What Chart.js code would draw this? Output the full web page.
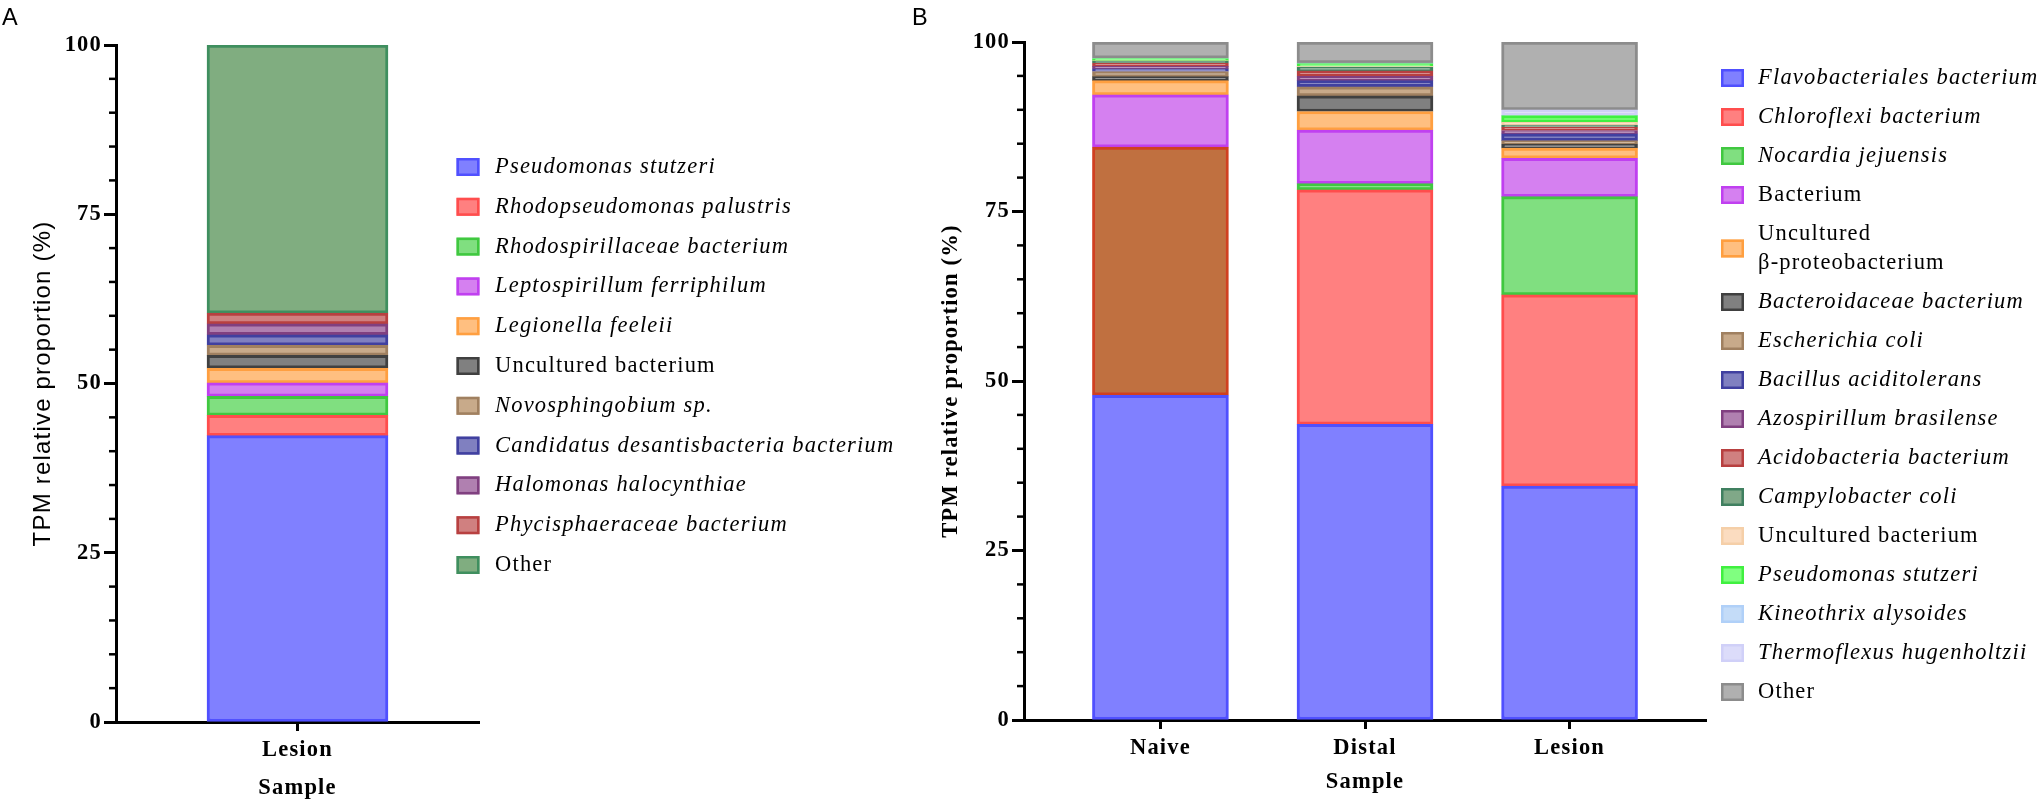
<!DOCTYPE html>
<html>
<head>
<meta charset="utf-8">
<script src="https://cdn.jsdelivr.net/npm/chart.js@4.4.1/dist/chart.umd.min.js"></script>
<style>
  html, body { margin: 0; padding: 0; background: #fff; }
  #wrapA { position: absolute; left: 0; top: 0; width: 910px; height: 802px; }
  #wrapB { position: absolute; left: 910px; top: 0; width: 1129px; height: 802px; }
</style>
</head>
<body>
<div id="wrapA"><canvas id="chartA" width="910" height="802"></canvas></div>
<div id="wrapB"><canvas id="chartB" width="1129" height="802"></canvas></div>
<script>
// Panel A - single lesion sample
const samplesA = ["Lesion"];
const taxaA = [
    "Pseudomonas stutzeri", "Rhodopseudomonas palustris", "Rhodospirillaceae bacterium",
    "Leptospirillum ferriphilum", "Legionella feeleii", "Uncultured bacterium",
    "Novosphingobium sp.", "Candidatus desantisbacteria bacterium", "Halomonas halocynthiae",
    "Phycisphaeraceae bacterium", "Other"
];
const lesionA = [42.3, 3.0, 2.8, 2.0, 2.15, 1.9, 1.5, 1.55, 1.6, 1.6, 39.6];

// Panel B - three samples
const samplesB = ["Naive", "Distal", "Lesion"];
const taxaB = [
    "Flavobacteriales bacterium", "Chloroflexi bacterium", "Nocardia jejuensis", "Bacterium",
    "Uncultured\nβ-proteobacterium", "Bacteroidaceae bacterium", "Escherichia coli",
    "Bacillus aciditolerans", "Azospirillum brasilense", "Acidobacteria bacterium",
    "Campylobacter coli", "Uncultured bacterium", "Pseudomonas stutzeri",
    "Kineothrix alysoides", "Thermoflexus hugenholtzii", "Other"
];
const naiveB  = [47.9, 36.6, 0,    7.7,  2.1,  0.6, 0.75, 0.4, 0.35, 0.5, 0.3,  0.05, 0.3, 0.02, 0.03, 2.4];
const distalB = [43.6, 34.6, 0.9,  7.9,  2.75, 2.3, 1.35, 0.9, 0.65, 0.8, 0.55, 0.1,  0.4, 0.05, 0.05, 3.1];
const lesionB = [34.5, 28.2, 14.5, 5.65, 1.5,  0.6, 0.5,  1.0, 0.5,  0.5, 0.3,  0.4,  1.0, 0.05, 0.8,  10.0];

const yTicks = [0, 25, 50, 75, 100];
const minorStep = 5;

// names set in upright type in the legends
const romanNames = ["Uncultured bacterium", "Other", "Bacterium", "Uncultured\nβ-proteobacterium"];

// colours
const fillA = ["#8080ff", "#ff8080", "#80df80", "#d580f0", "#ffbf80", "#808080",
               "#c8aa8a", "#8080c0", "#b080b0", "#d08080", "#80ad80"];
const lineA = ["#5050ff", "#ff4d4d", "#40c840", "#c040f0", "#ff9f40", "#404040",
               "#a08060", "#4040a0", "#804080", "#b84040", "#3f8f5f"];
const fillB = ["#8080ff", "#ff8080", "#80df80", "#d580f0", "#ffbf80", "#808080",
               "#c8aa8a", "#8080c0", "#b080b0", "#d08080", "#80a888", "#fbdcc0",
               "#80ff80", "#c4dcf8", "#dcdcfa", "#b0b0b0"];
const lineB = ["#5050ff", "#ff4d4d", "#40c840", "#c040f0", "#ff9f40", "#404040",
               "#a08060", "#4040a0", "#804080", "#b84040", "#408060", "#f5cfa8",
               "#40f040", "#b0d0f8", "#d0d0f8", "#8c8c8c"];
const naiveChloroFill = "#c07040";
const naiveChloroLine = "#d04020";

const serif = "'Liberation Serif', 'Times New Roman', serif";
const sans = "'Liberation Sans', Arial, sans-serif";
const fontSize = 22.5;

Chart.defaults.color = "#000";
Chart.defaults.font.family = serif;

// GraphPad-like letter spacing for all chart text
const spacingPlugin = {
    id: "spacing",
    beforeDraw(chart) {
        chart.ctx.letterSpacing = "1.2px";
    }
};

// small ticks between the labelled ones
const minorTicksPlugin = {
    id: "minorTicks",
    afterDraw(chart) {
        const y = chart.scales.y;
        const x0 = chart.chartArea.left;
        const ctx = chart.ctx;
        ctx.save();
        ctx.strokeStyle = "#000";
        ctx.lineWidth = 2.5;
        for (let v = y.min; v <= y.max; v += minorStep) {
            if (yTicks.includes(v)) continue;
            const py = y.getPixelForValue(v);
            ctx.beginPath();
            ctx.moveTo(x0 - 7, py);
            ctx.lineTo(x0, py);
            ctx.stroke();
        }
        ctx.restore();
    }
};

// legend drawn at the side, items in stack order
const sideLegendPlugin = {
    id: "sideLegend",
    afterDraw(chart, args, opts) {
        const ctx = chart.ctx;
        ctx.save();
        ctx.letterSpacing = "1.2px";
        ctx.textBaseline = "middle";
        ctx.textAlign = "left";
        let y = opts.top;
        chart.data.datasets.forEach(ds => {
            const lines = ds.label.split("\n");
            const span = (lines.length - 1) * opts.lineGap;
            const boxY = y + span / 2;

            ctx.fillStyle = ds.legendFill;
            ctx.fillRect(opts.boxX, boxY - 9, 23, 18);
            ctx.strokeStyle = ds.legendLine;
            ctx.lineWidth = 2.5;
            ctx.strokeRect(opts.boxX + 1.25, boxY - 9 + 1.25, 23 - 2.5, 18 - 2.5);

            const style = romanNames.includes(ds.label) ? "normal" : "italic";
            ctx.font = style + " " + fontSize + "px " + serif;
            ctx.fillStyle = "#000";
            lines.forEach((line, k) => {
                ctx.fillText(line, opts.textX, y + k * opts.lineGap);
            });
            y += span + opts.step;
        });
        ctx.restore();
    }
};

// panel letter
const panelLetterPlugin = {
    id: "panelLetter",
    afterDraw(chart, args, opts) {
        const ctx = chart.ctx;
        ctx.save();
        ctx.font = "23.5px " + sans;
        ctx.fillStyle = "#000";
        ctx.textBaseline = "alphabetic";
        ctx.fillText(opts.text, opts.x, opts.y);
        ctx.restore();
    }
};

const boldSerif = { family: serif, size: fontSize, weight: "bold" };

function yAxis(titleFont, titlePad, width) {
    return {
        stacked: true,
        min: 0,
        max: 100,
        z: 1,
        afterBuildTicks: s => { s.ticks = yTicks.map(v => ({ value: v })); },
        afterFit: s => { s.width = width; },
        border: { display: true, color: "#000", width: 3 },
        grid: {
            display: true, drawOnChartArea: false, drawTicks: true,
            tickLength: 12, tickWidth: 3, tickColor: "#000", color: "#000"
        },
        ticks: { font: boldSerif, color: "#000", padding: 2 },
        title: {
            display: true,
            text: "TPM relative proportion (%)",
            font: titleFont,
            color: "#000",
            padding: { top: titlePad, bottom: 0 }
        }
    };
}

function xGrid() {
    return {
        display: true, offset: false, drawOnChartArea: false, drawTicks: true,
        tickLength: 9, tickWidth: 3, tickColor: "#000", color: "#000"
    };
}

// ---- Panel A ----
const dataA = taxaA.map((name, i) => ({
    label: name,
    data: [lesionA[i]],
    backgroundColor: fillA[i],
    borderColor: lineA[i],
    legendFill: fillA[i],
    legendLine: lineA[i],
    borderWidth: 3,
    borderSkipped: false,
    barThickness: 181
}));

new Chart(document.getElementById("chartA"), {
    type: "bar",
    data: { labels: samplesA, datasets: dataA },
    options: {
        responsive: false,
        devicePixelRatio: 1,
        animation: false,
        layout: { padding: { left: 0, top: 45, right: 431, bottom: 0 } },
        plugins: {
            legend: { display: false },
            tooltip: { enabled: false },
            sideLegend: { boxX: 456.5, textX: 495, top: 167, step: 39.8, lineGap: 29 },
            panelLetter: { text: "A", x: 2, y: 24.5 }
        },
        scales: {
            x: {
                type: "category",
                stacked: true,
                offset: true,
                z: 1,
                afterFit: s => { s.height = 80; },
                border: { display: true, color: "#000", width: 3 },
                grid: xGrid(),
                ticks: { font: boldSerif, color: "#000", padding: 6 },
                title: { display: true, text: "Sample", font: boldSerif, color: "#000", padding: { top: 0, bottom: 0 } }
            },
            y: yAxis({ family: sans, size: 24, weight: "normal" }, 29, 116)
        }
    },
    plugins: [spacingPlugin, minorTicksPlugin, sideLegendPlugin, panelLetterPlugin]
});

// ---- Panel B ----
const sampleValuesB = [naiveB, distalB, lesionB];
const dataB = taxaB.map((name, i) => ({
    label: name,
    data: samplesB.map((s, j) => ({ x: j, y: sampleValuesB[j][i] })),
    backgroundColor: i === 1 ? (c => (c.dataIndex === 0 ? naiveChloroFill : fillB[i])) : fillB[i],
    borderColor: i === 1 ? (c => (c.dataIndex === 0 ? naiveChloroLine : lineB[i])) : lineB[i],
    legendFill: fillB[i],
    legendLine: lineB[i],
    borderWidth: 3,
    borderSkipped: false,
    barThickness: 136
}));

new Chart(document.getElementById("chartB"), {
    type: "bar",
    data: { datasets: dataB },
    options: {
        responsive: false,
        devicePixelRatio: 1,
        animation: false,
        layout: { padding: { left: 0, top: 42, right: 333, bottom: 0 } },
        plugins: {
            legend: { display: false },
            tooltip: { enabled: false },
            sideLegend: { boxX: 811, textX: 848, top: 78, step: 39, lineGap: 29 },
            panelLetter: { text: "B", x: 2, y: 24.5 }
        },
        scales: {
            x: {
                type: "linear",
                min: -0.667,
                max: 2.667,
                offset: false,
                stacked: true,
                z: 1,
                afterBuildTicks: s => { s.ticks = samplesB.map((_, j) => ({ value: j })); },
                afterFit: s => { s.height = 82; },
                border: { display: true, color: "#000", width: 3 },
                grid: xGrid(),
                ticks: {
                    font: boldSerif, color: "#000", padding: 5.5, autoSkip: false,
                    callback: v => samplesB[v]
                },
                title: { display: true, text: "Sample", font: boldSerif, color: "#000", padding: { top: 0, bottom: 6 } }
            },
            y: yAxis(boldSerif, 27.5, 114)
        }
    },
    plugins: [spacingPlugin, minorTicksPlugin, sideLegendPlugin, panelLetterPlugin]
});
</script>
</body>
</html>
